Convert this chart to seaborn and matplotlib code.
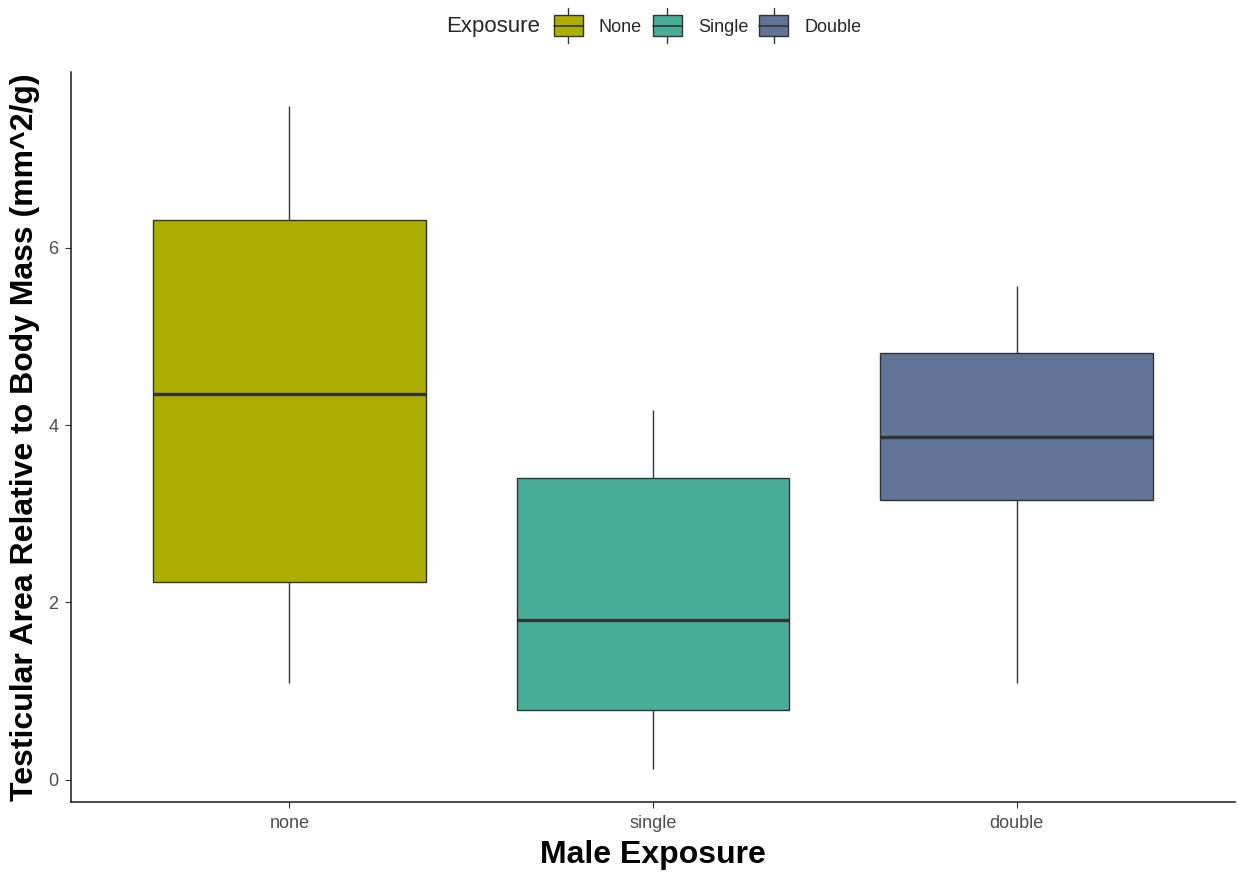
import matplotlib
matplotlib.use("Agg")
import matplotlib.pyplot as plt
import seaborn as sns
import pandas as pd
from matplotlib.legend_handler import HandlerBase
from matplotlib.patches import Rectangle
from matplotlib.lines import Line2D
from matplotlib.offsetbox import HPacker

# Summary points per exposure group (min, Q1, median, Q3, max)
groups = ["none", "single", "double"]
legend_labels = ["None", "Single", "Double"]
none_vals = [1.09, 2.23, 4.35, 6.31, 7.60]
single_vals = [0.12, 0.79, 1.80, 3.40, 4.17]
double_vals = [1.09, 3.16, 3.86, 4.81, 5.57]
colors = ["#ADAD00", "#48AE98", "#5F7497"]
y_ticks = [0, 2, 4, 6]

rows = []
for g, vals in zip(groups, [none_vals, single_vals, double_vals]):
    for v in vals:
        rows.append({"exposure": g, "value": v})
df = pd.DataFrame(rows)

sns.set_style("white")
plt.rcParams["font.family"] = ["Liberation Sans", "DejaVu Sans"]

fig = plt.figure(figsize=(12.38, 8.73), dpi=100)
ax = fig.add_axes([0.0574, 0.0813, 0.9402, 0.8362])

edge = "#333333"
sns.boxplot(
    data=df, x="exposure", y="value", hue="exposure", order=groups,
    hue_order=groups, palette=colors, width=0.75, whis=1.5, showfliers=False,
    showcaps=False, saturation=1, legend=False, ax=ax,
    boxprops=dict(edgecolor=edge, linewidth=1.0),
    whiskerprops=dict(color=edge, linewidth=1.0),
    medianprops=dict(color=edge, linewidth=2.4),
)

ax.set_xlim(-0.6, 2.6)
ax.set_ylim(-0.25, 7.98)
ax.set_yticks(y_ticks)
ax.set_yticklabels([str(t) for t in y_ticks])
ax.tick_params(axis="both", which="major", length=4, width=0.8, color=edge,
               labelsize=13, labelcolor="#4D4D4D", direction="out",
               left=True, bottom=True, pad=5)
for side in ["top", "right"]:
    ax.spines[side].set_visible(False)
for side in ["left", "bottom"]:
    ax.spines[side].set_color("#1A1A1A")
    ax.spines[side].set_linewidth(1.1)

ax.set_xlabel("Male Exposure", fontsize=23, fontweight="bold", color="black", labelpad=6)
ax.set_ylabel("Testicular Area Relative to Body Mass (mm^2/g)", fontsize=23,
              fontweight="bold", color="black", labelpad=6)


class BoxGlyph:
    def __init__(self, color):
        self.color = color


class BoxGlyphHandler(HandlerBase):
    def create_artists(self, legend, orig_handle, xdescent, ydescent, width,
                       height, fontsize, trans):
        cx = -xdescent + width / 2
        bw = width
        bh = height * 1.3
        by = -ydescent + (height - bh) / 2
        rect = Rectangle((cx - bw / 2, by), bw, bh, facecolor=orig_handle.color,
                         edgecolor=edge, linewidth=1.0, transform=trans)
        med = Line2D([cx - bw / 2, cx + bw / 2], [by + bh / 2, by + bh / 2],
                     color=edge, linewidth=1.2, transform=trans)
        top = Line2D([cx, cx], [by + bh, by + bh + height * 0.45],
                     color=edge, linewidth=1.0, transform=trans)
        bot = Line2D([cx, cx], [by, by - height * 0.45],
                     color=edge, linewidth=1.0, transform=trans)
        return [rect, med, top, bot]


handles = [BoxGlyph(c) for c in colors]
leg = fig.legend(
    handles, legend_labels, handler_map={BoxGlyph: BoxGlyphHandler()},
    loc="upper center", bbox_to_anchor=(0.528, 1.0), ncol=3, frameon=False,
    fontsize=13, title="Exposure", title_fontsize=16, handlelength=1.6,
    handleheight=1.0, handletextpad=0.9, columnspacing=0.6,
    borderaxespad=0.5,
)
# place the legend title to the left of the entries
title_box = leg._legend_title_box
children = leg._legend_box.get_children()
new_box = HPacker(pad=0, sep=10, align="center", children=[title_box, children[1]])
leg._legend_box._children = [new_box]

fig.savefig("out.png", dpi=100, facecolor="white")
